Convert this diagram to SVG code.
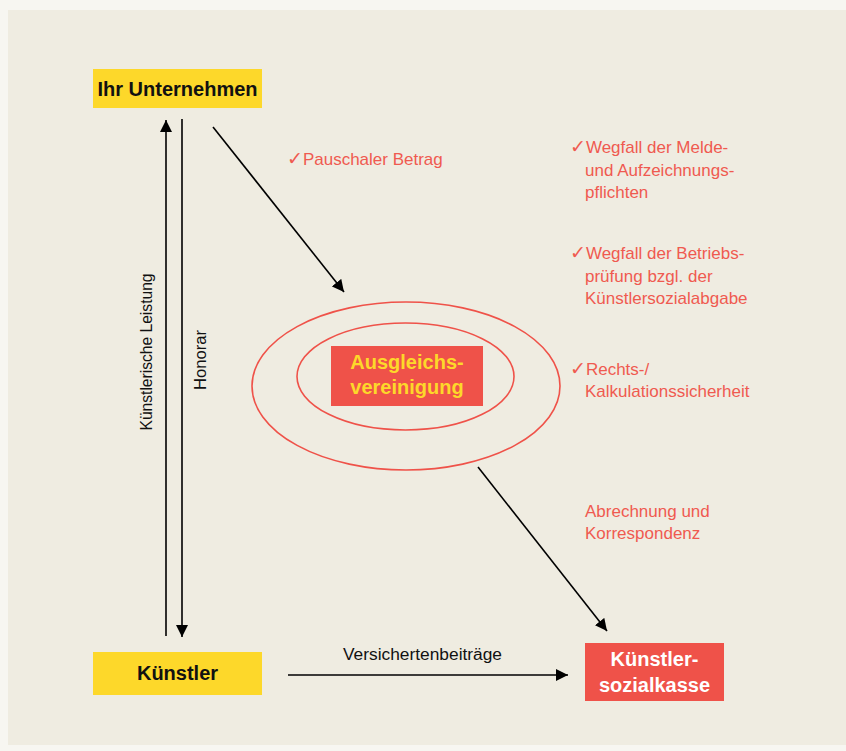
<svg xmlns="http://www.w3.org/2000/svg" width="846" height="751" viewBox="0 0 846 751">
<style>
.bg{fill:#efece1}
.yel{fill:#fdd82a}
.red{fill:#ef5249}
.ln{stroke:#000;stroke-width:1.6;fill:none}
.ell{stroke:#ef5249;stroke-width:1.6;fill:none}
.lbl{font-family:"Liberation Sans",Arial,sans-serif;font-size:17px;fill:#ef5a50}
.blk{font-family:"Liberation Sans",Arial,sans-serif;font-size:16px;fill:#111}
.bold{font-family:"Liberation Sans",Arial,sans-serif;font-weight:bold;font-size:20px;text-anchor:middle}
.chk{font-family:"DejaVu Sans",sans-serif;font-size:19px}
</style>
<defs>
<marker id="ah" viewBox="0 0 10 10" refX="10" refY="5" markerWidth="12" markerHeight="12" markerUnits="userSpaceOnUse" orient="auto">
<path d="M0,0 L10,5 L0,10 z" fill="#000"/>
</marker>
</defs>
<rect width="846" height="751" fill="#f7f6f1"/>
<rect class="bg" x="8" y="10" width="838" height="735"/>

<g id="connectors">
<line class="ln" x1="166" y1="636" x2="166" y2="120" marker-end="url(#ah)"/>
<line class="ln" x1="182" y1="119" x2="182" y2="637" marker-end="url(#ah)"/>
<line class="ln" x1="213" y1="127" x2="344" y2="292" marker-end="url(#ah)"/>
<line class="ln" x1="478" y1="467" x2="607" y2="631" marker-end="url(#ah)"/>
<line class="ln" x1="288" y1="675" x2="568" y2="675" marker-end="url(#ah)"/>
<text class="blk" transform="translate(152,352) rotate(-90)" text-anchor="middle" textLength="157" lengthAdjust="spacingAndGlyphs">Künstlerische Leistung</text>
<text class="blk" transform="translate(206,360) rotate(-90)" text-anchor="middle" textLength="60" lengthAdjust="spacingAndGlyphs">Honorar</text>
<text class="blk" x="422.5" y="660" text-anchor="middle" textLength="159" lengthAdjust="spacingAndGlyphs">Versichertenbeiträge</text>
<text class="lbl" x="287" y="165"><tspan class="chk">✓</tspan>Pauschaler Betrag</text>
<text class="lbl" x="585" y="517">Abrechnung und</text>
<text class="lbl" x="585" y="539">Korrespondenz</text>
</g>

<g id="benefits">
<text class="lbl" x="570" y="153"><tspan class="chk">✓</tspan>Wegfall der Melde-</text>
<text class="lbl" x="585" y="176">und Aufzeichnungs-</text>
<text class="lbl" x="585" y="198">pflichten</text>
<text class="lbl" x="570" y="259"><tspan class="chk">✓</tspan>Wegfall der Betriebs-</text>
<text class="lbl" x="585" y="282">prüfung bzgl. der</text>
<text class="lbl" x="585" y="304">Künstlersozialabgabe</text>
<text class="lbl" x="570" y="375"><tspan class="chk">✓</tspan>Rechts-/</text>
<text class="lbl" x="585" y="397">Kalkulationssicherheit</text>
</g>

<g id="unternehmen">
<rect class="yel" x="93" y="69" width="169" height="39"/>
<text class="bold" x="177.5" y="96" fill="#111">Ihr Unternehmen</text>
</g>

<g id="ausgleichsvereinigung">
<ellipse class="ell" cx="406" cy="386" rx="154" ry="84"/>
<ellipse class="ell" cx="405.5" cy="376.5" rx="108.5" ry="53.5"/>
<rect class="red" x="331" y="346" width="152" height="60"/>
<text class="bold" x="407" y="369" fill="#fdd82a">Ausgleichs-</text>
<text class="bold" x="407" y="394" fill="#fdd82a">vereinigung</text>
</g>

<g id="kuenstler">
<rect class="yel" x="93" y="652" width="169" height="43"/>
<text class="bold" x="177.5" y="680" fill="#111">Künstler</text>
</g>

<g id="ksk">
<rect class="red" x="585" y="643" width="139" height="58"/>
<text class="bold" x="654.5" y="666" fill="#fff">Künstler-</text>
<text class="bold" x="654.5" y="692" fill="#fff">sozialkasse</text>
</g>
</svg>
